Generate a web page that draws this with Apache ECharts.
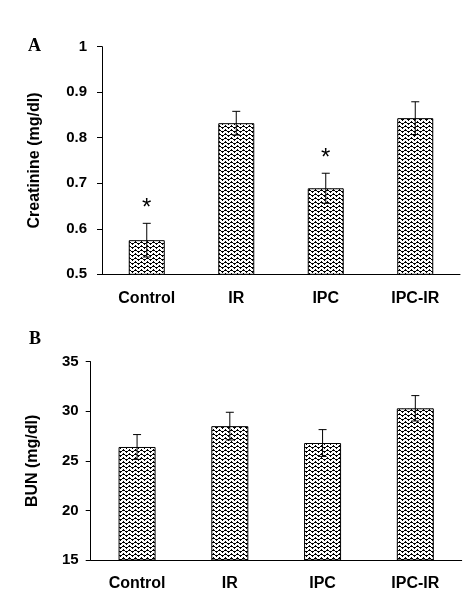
<!DOCTYPE html>
<html><head><meta charset="utf-8">
<script src="https://cdn.jsdelivr.net/npm/echarts@6/dist/echarts.min.js"></script>
<style>html,body{margin:0;padding:0;background:#fff}#c{width:476px;height:606px}</style>
</head><body><div id="c"></div>
<script>
var categories = ['Control', 'IR', 'IPC', 'IPC-IR'];
var creatinine = [0.575, 0.832, 0.689, 0.843];
var creatinineErr = [0.037, 0.026, 0.033, 0.036];
var creatinineSig = ['*', '', '*', ''];
var bun = [26.4, 28.5, 26.8, 30.3];
var bunErr = [1.25, 1.4, 1.35, 1.28];
var creatinineTicks = { min: 0.5, max: 1, interval: 0.1 };
var bunTicks = { min: 15, max: 35, interval: 5 };

function makePattern() {
  var W = 6, H = 4;
  var c = document.createElement('canvas');
  c.width = W; c.height = H;
  var g = c.getContext('2d');
  var img = g.createImageData(W, H);
  var zig = [0, 1, 2, 3, 2, 1];
  for (var y = 0; y < H; y++) {
    for (var x = 0; x < W; x++) {
      var dark = ((y + zig[x]) % 4 === 0) || ((y + zig[(x + 1) % W]) % 4 === 0 && x % 3 === 0);
      var i = (y * W + x) * 4;
      var v = dark ? 0 : 255;
      img.data[i] = v; img.data[i + 1] = v; img.data[i + 2] = v; img.data[i + 3] = 255;
    }
  }
  g.putImageData(img, 0, 0);
  return c;
}
var pat = { image: makePattern(), repeat: 'repeat' };

var FONT = 'Liberation Sans, Arial, sans-serif';
var chart = echarts.init(document.getElementById('c'), null, { renderer: 'canvas' });

function errSeries(xi, yi, vals, errs, sig) {
  return {
    type: 'custom', xAxisIndex: xi, yAxisIndex: yi, z: 10,
    data: vals.map(function (v, i) { return [i, v, errs[i]]; }),
    renderItem: function (params, api) {
      var x = api.coord([api.value(0), api.value(1)])[0];
      var v = api.value(1), e = api.value(2);
      var top = api.coord([api.value(0), v + e])[1];
      var bot = api.coord([api.value(0), v - e])[1];
      var hw = 4;
      var children = [
        { type: 'line', shape: { x1: x, y1: top, x2: x, y2: bot }, style: { stroke: '#000', lineWidth: 1 } },
        { type: 'line', shape: { x1: x - hw, y1: top, x2: x + hw, y2: top }, style: { stroke: '#000', lineWidth: 1 } },
        { type: 'line', shape: { x1: x - hw, y1: bot, x2: x + hw, y2: bot }, style: { stroke: '#000', lineWidth: 1 } }
      ];
      var s = sig ? sig[params.dataIndex] : '';
      if (s) {
        children.push({ type: 'text', style: { text: s, x: x, y: top - 15, align: 'center', verticalAlign: 'middle', font: '24px ' + FONT, fill: '#000' } });
      }
      return { type: 'group', children: children };
    }
  };
}

var axisLabelStyle = { color: '#000', fontSize: 15, fontWeight: 'bold', fontFamily: FONT };

chart.setOption({
  animation: false,
  backgroundColor: '#fff',
  grid: [
    { left: 102, top: 46.7, width: 358, height: 227.6 },
    { left: 90.7, top: 361.7, width: 371, height: 198.3 }
  ],
  xAxis: [
    { type: 'category', gridIndex: 0, data: categories, axisLine: { lineStyle: { color: '#000', width: 1 } }, axisTick: { show: false },
      axisLabel: { color: '#000', fontSize: 16, fontWeight: 'bold', fontFamily: FONT, margin: 16 } },
    { type: 'category', gridIndex: 1, data: categories, axisLine: { lineStyle: { color: '#000', width: 1 } }, axisTick: { show: false },
      axisLabel: { color: '#000', fontSize: 16, fontWeight: 'bold', fontFamily: FONT, margin: 16 } }
  ],
  yAxis: [
    { type: 'value', gridIndex: 0, min: creatinineTicks.min, max: creatinineTicks.max, interval: creatinineTicks.interval,
      axisLine: { show: true, lineStyle: { color: '#000' } }, axisTick: { show: true, length: 5, lineStyle: { color: '#000' } },
      splitLine: { show: false }, axisLabel: Object.assign({ margin: 15, formatter: function (v) { return +v.toFixed(1) + ''; } }, axisLabelStyle),
      name: 'Creatinine (mg/dl)', nameLocation: 'middle', nameGap: 59,
      nameTextStyle: { color: '#000', fontSize: 16, fontWeight: 'bold', fontFamily: FONT } },
    { type: 'value', gridIndex: 1, min: bunTicks.min, max: bunTicks.max, interval: bunTicks.interval,
      axisLine: { show: true, lineStyle: { color: '#000' } }, axisTick: { show: true, length: 5, lineStyle: { color: '#000' } },
      splitLine: { show: false }, axisLabel: Object.assign({ margin: 12 }, axisLabelStyle),
      name: 'BUN (mg/dl)', nameLocation: 'middle', nameGap: 50,
      nameTextStyle: { color: '#000', fontSize: 16, fontWeight: 'bold', fontFamily: FONT } }
  ],
  graphic: [
    { type: 'text', left: 28, top: 37, style: { text: 'A', font: 'bold 18px Liberation Serif, Times New Roman, serif', fill: '#000' } },
    { type: 'text', left: 29, top: 330, style: { text: 'B', font: 'bold 18px Liberation Serif, Times New Roman, serif', fill: '#000' } }
  ],
  series: [
    { type: 'bar', xAxisIndex: 0, yAxisIndex: 0, data: creatinine, barWidth: 36,
      itemStyle: { color: pat, borderColor: '#000', borderWidth: 1 } },
    errSeries(0, 0, creatinine, creatinineErr, creatinineSig),
    { type: 'bar', xAxisIndex: 1, yAxisIndex: 1, data: bun, barWidth: 37,
      itemStyle: { color: pat, borderColor: '#000', borderWidth: 1 } },
    errSeries(1, 1, bun, bunErr, null)
  ]
});
</script>
</body></html>
